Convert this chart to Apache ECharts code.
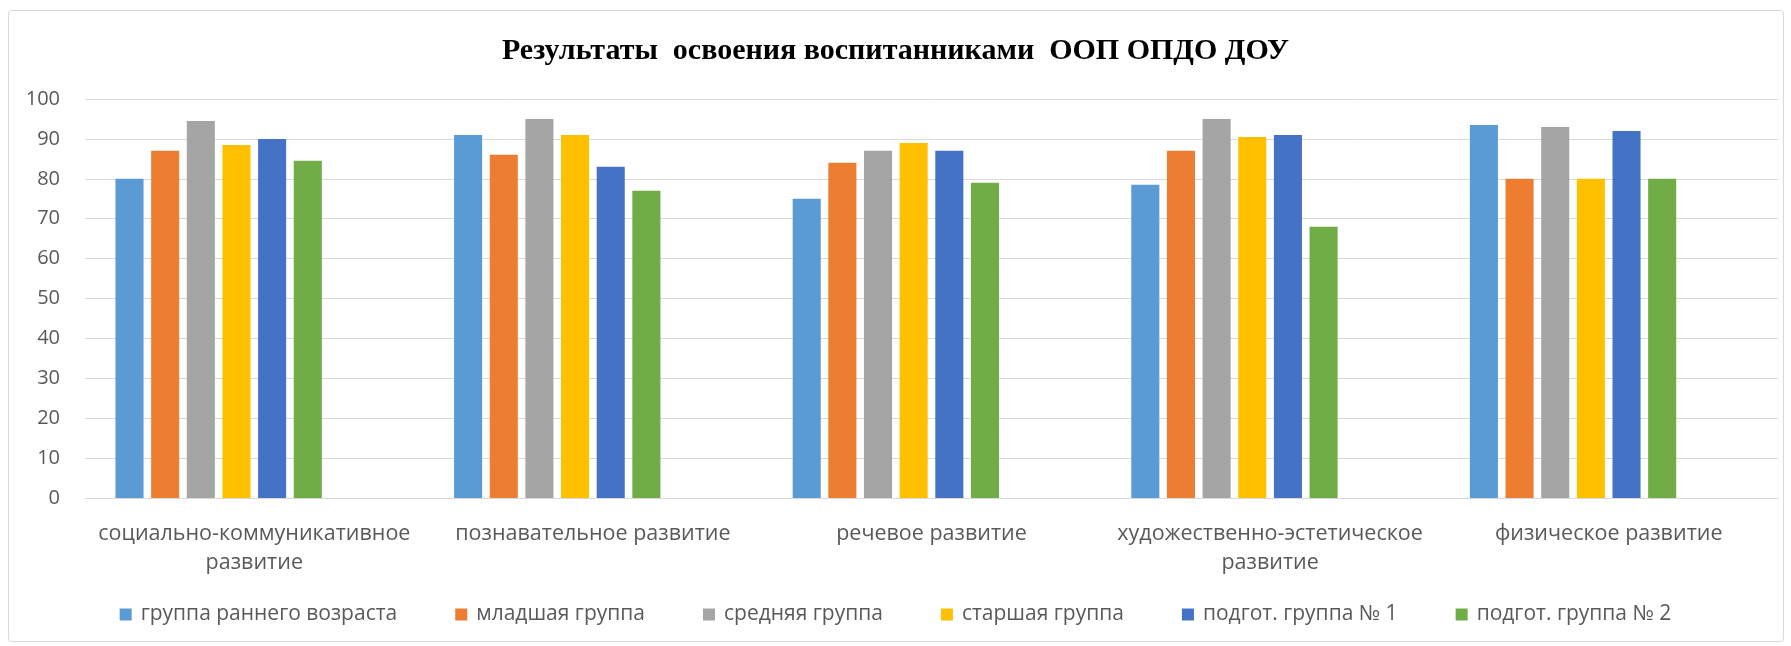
<!DOCTYPE html>
<html>
<head>
<meta charset="utf-8">
<script src="https://cdn.jsdelivr.net/npm/echarts@6/dist/echarts.min.js"></script>
<style>
html,body{margin:0;padding:0;background:#fff;}
#c{width:1791px;height:646px;}
</style>
</head>
<body>
<div id="c"></div>
<script>
const titleText = 'Результаты  освоения воспитанниками  ООП ОПДО ДОУ';
const categories = [
  'социально-коммуникативное\nразвитие',
  'познавательное развитие',
  'речевое развитие',
  'художественно-эстетическое\nразвитие',
  'физическое развитие'
];
const yTicks = { min: 0, max: 100, interval: 10 };
const seriesNames = [
  'группа раннего возраста',
  'младшая группа',
  'средняя группа',
  'старшая группа',
  'подгот. группа № 1',
  'подгот. группа № 2'
];
const earlyGroup = [80, 91, 75, 78.5, 93.5];
const juniorGroup = [87, 86, 84, 87, 80];
const middleGroup = [94.5, 95, 87, 95, 93];
const seniorGroup = [88.5, 91, 89, 90.5, 80];
const prepGroup1 = [90, 83, 87, 91, 92];
const prepGroup2 = [84.5, 77, 79, 68, 80];
// two empty series present in the source chart (they reserve bar slots)
const emptySeriesA = [];
const emptySeriesB = [];

const colors = ['#5B9BD5', '#ED7D31', '#A5A5A5', '#FFC000', '#4472C4', '#70AD47'];
const values = [earlyGroup, juniorGroup, middleGroup, seniorGroup, prepGroup1, prepGroup2];

const series = values.map((d, i) => ({
  name: seriesNames[i],
  type: 'bar',
  data: d,
  barGap: '27%',
  barCategoryGap: '18%',
  itemStyle: { color: colors[i] },
  emphasis: { disabled: true }
}));
series.push({ name: '_e1', type: 'bar', data: emptySeriesA });
series.push({ name: '_e2', type: 'bar', data: emptySeriesB });

const chart = echarts.init(document.getElementById('c'), null, { renderer: 'canvas' });
chart.setOption({
  animation: false,
  backgroundColor: '#fff',
  color: colors,
  title: {
    text: titleText,
    left: 'center',
    top: 31,
    textStyle: {
      fontFamily: 'Liberation Serif',
      fontWeight: 'bold',
      fontSize: 30,
      color: '#000'
    }
  },
  graphic: [{
    type: 'rect',
    shape: { x: 8.5, y: 10.5, width: 1775, height: 631, r: 3 },
    style: { fill: null, stroke: '#d9d9d9', lineWidth: 1 },
    z: -1
  }],
  legend: {
    data: seriesNames,
    bottom: 16,
    left: 'center',
    itemWidth: 12,
    itemHeight: 12,
    itemGap: 58,
    icon: 'rect',
    textStyle: { fontFamily: 'Open Sans', fontSize: 21, color: '#595959', padding: [0, 0, 0, 4] }
  },
  grid: { left: 85, right: 13, top: 99, bottom: 148, containLabel: false },
  xAxis: {
    type: 'category',
    data: categories,
    axisLine: { show: true, lineStyle: { color: '#d9d9d9', width: 1 } },
    axisTick: { show: false },
    axisLabel: {
      interval: 0,
      margin: 21,
      fontFamily: 'Open Sans',
      fontSize: 21.5,
      lineHeight: 29,
      color: '#595959'
    }
  },
  yAxis: {
    type: 'value',
    min: yTicks.min,
    max: yTicks.max,
    interval: yTicks.interval,
    axisLine: { show: false },
    axisTick: { show: false },
    splitLine: { lineStyle: { color: '#d9d9d9', width: 1 } },
    axisLabel: {
      margin: 25,
      fontFamily: 'Open Sans',
      fontSize: 20,
      color: '#595959'
    }
  },
  series: series
});
</script>
</body>
</html>
